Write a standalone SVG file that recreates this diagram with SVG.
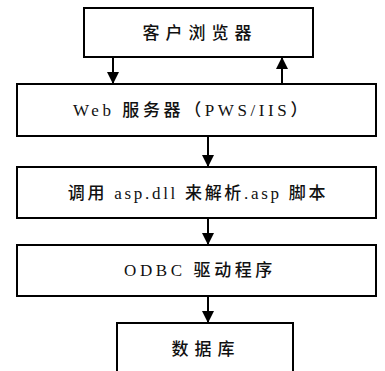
<svg xmlns="http://www.w3.org/2000/svg" width="385" height="371" viewBox="0 0 385 371">
<style>
.box{fill:#fff;stroke:#000;stroke-width:2}
.t{font-family:"Liberation Serif","Noto Sans CJK SC",serif;font-size:17px;fill:#111;text-anchor:middle}
.c{font-family:"Noto Sans CJK SC",sans-serif;font-weight:500}
.ln{stroke:#000;stroke-width:2;fill:none}
</style>
<defs>
<marker id="ah" viewBox="0 0 10 10" refX="10" refY="5" markerWidth="6" markerHeight="6" orient="auto" markerUnits="strokeWidth">
<path d="M0,0 L10,5 L0,10 Z" fill="#000"/>
</marker>
</defs>
<rect width="385" height="371" fill="#fff"/>
<g id="connectors">
<line class="ln" x1="113" y1="57" x2="113" y2="84" marker-end="url(#ah)"/>
<line class="ln" x1="282" y1="84" x2="282" y2="57" marker-end="url(#ah)"/>
<line class="ln" x1="208" y1="136" x2="208" y2="167" marker-end="url(#ah)"/>
<line class="ln" x1="208" y1="218" x2="208" y2="245" marker-end="url(#ah)"/>
<line class="ln" x1="208" y1="296" x2="208" y2="323" marker-end="url(#ah)"/>
</g>
<g id="browser">
<rect class="box" x="84" y="8" width="229" height="49"/>
<text class="t c" x="200" y="39" style="letter-spacing:6px">客户浏览器</text>
</g>
<g id="webserver">
<rect class="box" x="17" y="84" width="359" height="52"/>
<text class="t" x="192" y="116" style="letter-spacing:3.6px">Web <tspan class="c">服务器（</tspan>PWS/IIS<tspan class="c">）</tspan></text>
</g>
<g id="aspdll">
<rect class="box" x="17" y="167" width="359" height="51"/>
<text class="t" x="198" y="199" style="letter-spacing:2.7px"><tspan class="c">调用</tspan> asp.dll <tspan class="c">来解析</tspan>.asp <tspan class="c">脚本</tspan></text>
</g>
<g id="odbc">
<rect class="box" x="17" y="245" width="359" height="51"/>
<text class="t" x="200" y="276" style="letter-spacing:3.6px">ODBC <tspan class="c">驱动程序</tspan></text>
</g>
<g id="database">
<rect class="box" x="117" y="323" width="176" height="50"/>
<text class="t c" x="206" y="355" style="letter-spacing:6px">数据库</text>
</g>
</svg>
